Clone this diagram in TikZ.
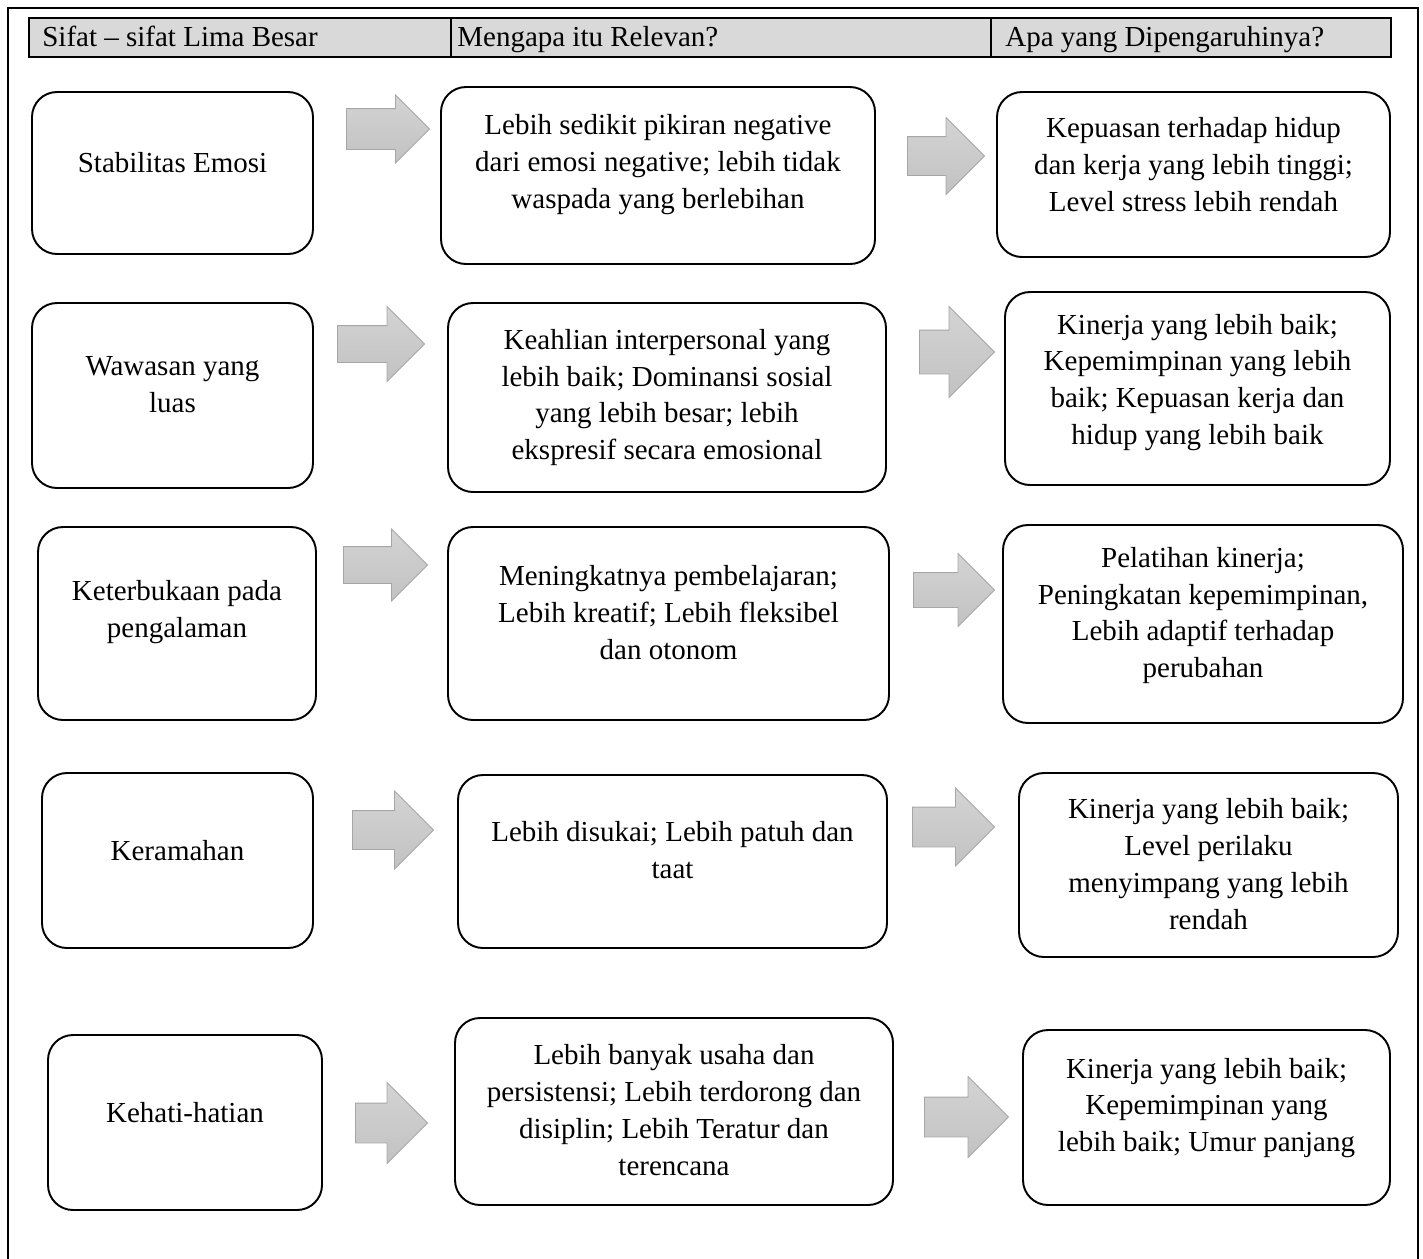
\documentclass[tikz,border=0pt]{standalone}
\usepackage{fontspec}
\setmainfont{Liberation Serif}
\usepackage{tikz}
\usetikzlibrary{shapes.arrows}

\begin{document}
\begin{tikzpicture}[
    font=\fontsize{16.5}{21}\selectfont,
    roundbox/.style={draw, line width=1.1pt, rounded corners=5mm, inner sep=0pt},
    boxtext/.style={align=center, inner sep=0pt},
    headcell/.style={draw, line width=1pt, fill=black!15, minimum height=0.78cm, anchor=west, inner sep=0pt},
    headtext/.style={anchor=base west, inner sep=0pt},
    grayarrow/.style={single arrow, draw=black!35, line width=0.5pt, top color=black!17, bottom color=black!24, inner xsep=0pt, single arrow tip angle=90, anchor=tail}
  ]
    \useasboundingbox (0,0) rectangle (28.46,-25.16);
    \draw[line width=1.1pt] (0.16,-25.4) |- (28.36,-0.16) -- (28.36,-25.4);

    \node[headcell, minimum width=8.44cm] (head1) at (0.56,-0.75) {};
    \node[headcell, minimum width=10.8cm] (head2) at (9.0,-0.75) {};
    \node[headcell, minimum width=8.0cm] (head3) at (19.8,-0.75) {};
    \node[headtext] (head1t) at (0.84,-0.92) {Sifat – sifat Lima Besar};
    \node[headtext] (head2t) at (9.14,-0.92) {Mengapa itu Relevan?};
    \node[headtext] (head3t) at (20.10,-0.92) {Apa yang Dipengaruhinya?};

    \node[roundbox, minimum width=5.62cm, minimum height=3.24cm] (trait1) at (3.45,-3.46) {};
    \node[roundbox, minimum width=8.68cm, minimum height=3.54cm] (why1) at (13.16,-3.51) {};
    \node[roundbox, minimum width=7.86cm, minimum height=3.30cm] (effect1) at (23.87,-3.49) {};
    \node[boxtext] (trait1t) at (3.45,-3.26) {Stabilitas Emosi};
    \node[boxtext] (why1t) at (13.16,-3.29) {Lebih sedikit pikiran negative\\dari emosi negative; lebih tidak\\waspada yang berlebihan};
    \node[boxtext] (effect1t) at (23.87,-3.29) {Kepuasan terhadap hidup\\dan kerja yang lebih tinggi;\\Level stress lebih rendah};

    \node[roundbox, minimum width=5.62cm, minimum height=3.70cm] (trait2) at (3.45,-7.91) {};
    \node[roundbox, minimum width=8.76cm, minimum height=3.78cm] (why2) at (13.34,-7.95) {};
    \node[roundbox, minimum width=7.70cm, minimum height=3.86cm] (effect2) at (23.95,-7.77) {};
    \node[boxtext] (trait2t) at (3.45,-7.70) {Wawasan yang\\luas};
    \node[boxtext] (why2t) at (13.34,-7.95) {Keahlian interpersonal yang\\lebih baik; Dominansi sosial\\yang lebih besar; lebih\\ekspresif secara emosional};
    \node[boxtext] (effect2t) at (23.95,-7.65) {Kinerja yang lebih baik;\\Kepemimpinan yang lebih\\baik; Kepuasan kerja dan\\hidup yang lebih baik};

    \node[roundbox, minimum width=5.56cm, minimum height=3.86cm] (trait3) at (3.54,-12.47) {};
    \node[roundbox, minimum width=8.82cm, minimum height=3.86cm] (why3) at (13.37,-12.47) {};
    \node[roundbox, minimum width=8.00cm, minimum height=3.96cm] (effect3) at (24.06,-12.48) {};
    \node[boxtext] (trait3t) at (3.54,-12.24) {Keterbukaan pada\\pengalaman};
    \node[boxtext] (why3t) at (13.37,-12.25) {Meningkatnya pembelajaran;\\Lebih kreatif; Lebih fleksibel\\dan otonom};
    \node[boxtext] (effect3t) at (24.06,-12.31) {Pelatihan kinerja;\\Peningkatan kepemimpinan,\\Lebih adaptif terhadap\\perubahan};

    \node[roundbox, minimum width=5.42cm, minimum height=3.50cm] (trait4) at (3.55,-17.21) {};
    \node[roundbox, minimum width=8.58cm, minimum height=3.46cm] (why4) at (13.45,-17.23) {};
    \node[roundbox, minimum width=7.58cm, minimum height=3.68cm] (effect4) at (24.17,-17.30) {};
    \node[boxtext] (trait4t) at (3.55,-17.02) {Keramahan};
    \node[boxtext] (why4t) at (13.45,-17.01) {Lebih disukai; Lebih patuh dan\\taat};
    \node[boxtext] (effect4t) at (24.17,-17.28) {Kinerja yang lebih baik;\\Level perilaku\\menyimpang yang lebih\\rendah};

    \node[roundbox, minimum width=5.48cm, minimum height=3.50cm] (trait5) at (3.70,-22.45) {};
    \node[roundbox, minimum width=8.76cm, minimum height=3.74cm] (why5) at (13.48,-22.23) {};
    \node[roundbox, minimum width=7.34cm, minimum height=3.50cm] (effect5) at (24.13,-22.35) {};
    \node[boxtext] (trait5t) at (3.70,-22.26) {Kehati-hatian};
    \node[boxtext] (why5t) at (13.48,-22.20) {Lebih banyak usaha dan\\persistensi; Lebih terdorong dan\\disiplin; Lebih Teratur dan\\terencana};
    \node[boxtext] (effect5t) at (24.13,-22.16) {Kinerja yang lebih baik;\\Kepemimpinan yang\\lebih baik; Umur panjang};

    \node[grayarrow, minimum height=1.66cm, minimum width=1.34cm, inner ysep=0.40cm, single arrow head extend=0.27cm] (arr1a) at (6.92,-2.58) {};
    \node[grayarrow, minimum height=1.54cm, minimum width=1.52cm, inner ysep=0.38cm, single arrow head extend=0.38cm] (arr1b) at (18.14,-3.12) {};
    \node[grayarrow, minimum height=1.74cm, minimum width=1.48cm, inner ysep=0.36cm, single arrow head extend=0.38cm] (arr2a) at (6.74,-6.88) {};
    \node[grayarrow, minimum height=1.50cm, minimum width=1.80cm, inner ysep=0.43cm, single arrow head extend=0.47cm] (arr2b) at (18.38,-7.04) {};
    \node[grayarrow, minimum height=1.68cm, minimum width=1.42cm, inner ysep=0.36cm, single arrow head extend=0.35cm] (arr3a) at (6.86,-11.30) {};
    \node[grayarrow, minimum height=1.62cm, minimum width=1.44cm, inner ysep=0.34cm, single arrow head extend=0.38cm] (arr3b) at (18.26,-11.80) {};
    \node[grayarrow, minimum height=1.62cm, minimum width=1.54cm, inner ysep=0.38cm, single arrow head extend=0.39cm] (arr4a) at (7.04,-16.60) {};
    \node[grayarrow, minimum height=1.64cm, minimum width=1.54cm, inner ysep=0.39cm, single arrow head extend=0.38cm] (arr4b) at (18.24,-16.54) {};
    \node[grayarrow, minimum height=1.44cm, minimum width=1.60cm, inner ysep=0.39cm, single arrow head extend=0.41cm] (arr5a) at (7.10,-22.46) {};
    \node[grayarrow, minimum height=1.68cm, minimum width=1.60cm, inner ysep=0.39cm, single arrow head extend=0.41cm] (arr5b) at (18.48,-22.34) {};
  \end{tikzpicture}
\end{document}
